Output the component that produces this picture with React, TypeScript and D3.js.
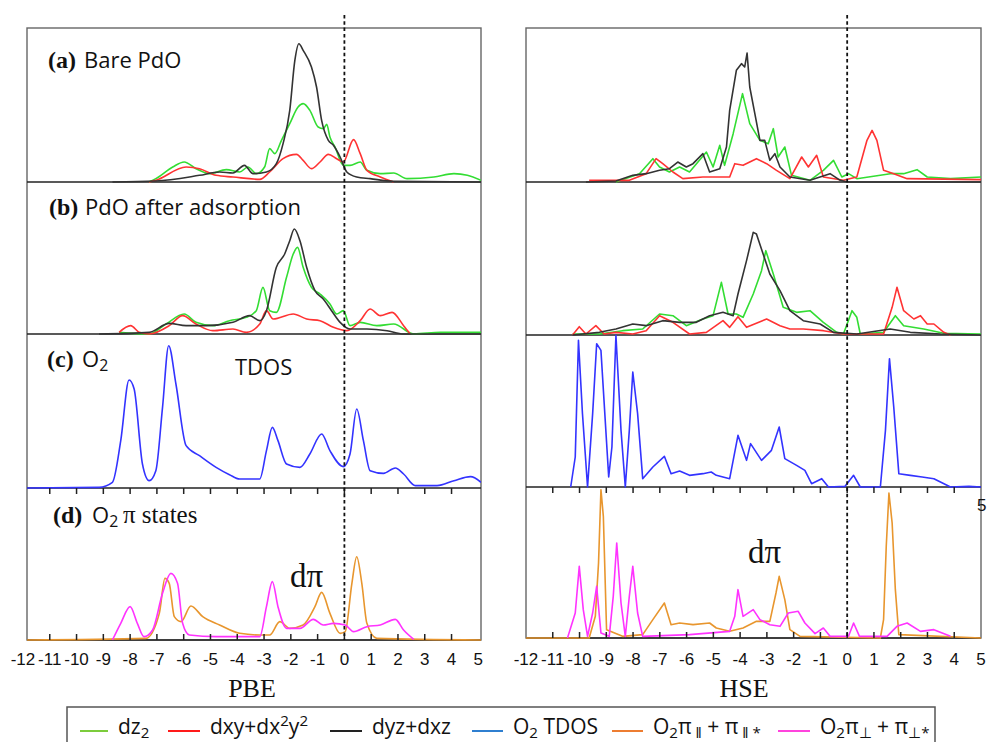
import React, { useEffect, useRef } from 'react';
import * as d3 from 'd3';

type Pt = [number, number];

// Energy axis (eV), both columns
const tickLabels = [-12, -11, -10, -9, -8, -7, -6, -5, -4, -3, -2, -1, 0, 1, 2, 3, 4, 5];
const tickMarks = [-11, -10, -9, -8, -7, -6, -5, -4, -3, -2, -1, 0, 1, 2, 3, 4];
const columnTitles = ['PBE', 'HSE'];

// ---- PBE (left column) ----
// (a) bare PdO
const pbeA_dz2: Pt[] = [[-7.3, 0], [-7.04, 1], [-6.41, 4.5], [-5.98, 6], [-5.54, 4], [-5.04, 2.5], [-4.41, 3.7], [-3.91, 3], [-3.6, 4.5], [-3.29, 2.5], [-2.98, 4.5], [-2.79, 10], [-2.6, 8.5], [-2.35, 12.5], [-2.04, 17.5], [-1.73, 22.5], [-1.54, 23.5], [-1.29, 21.5], [-0.98, 16.5], [-0.79, 16], [-0.66, 17.3], [-0.54, 13.5], [-0.35, 10.5], [-0.04, 5], [0.21, 5], [0.59, 6], [0.84, 3.5], [1.34, 2.5], [1.84, 2.7], [2.34, 1], [3.34, 1.5], [4.09, 2.5], [4.59, 2], [5.1, 0.5]];
const pbeA_dxy: Pt[] = [[-7.3, 0], [-7.04, 0.5], [-5.91, 4.5], [-5.41, 4], [-4.79, 2], [-4.16, 1.5], [-3.16, 0.8], [-2.79, 3], [-2.29, 7], [-1.79, 8.3], [-1.54, 6.5], [-1.23, 4], [-0.91, 6], [-0.6, 8.3], [-0.29, 7], [-0.04, 6], [0.34, 12.7], [0.59, 8.5], [0.84, 3.5], [1.34, 1.5], [1.84, 0]];
const pbeA_dyz: Pt[] = [[-8.66, 0], [-7.04, 0.3], [-5.41, 2], [-4.66, 3], [-4.16, 2.7], [-3.73, 5], [-3.41, 2.5], [-2.91, 3], [-2.54, 5.5], [-2.29, 11.5], [-2.04, 21.5], [-1.85, 36.5], [-1.7, 41.5], [-1.54, 39.5], [-1.23, 34.5], [-1.04, 28.5], [-0.85, 18.5], [-0.6, 12.5], [-0.41, 11], [-0.16, 7.5], [0.09, 3], [0.46, 1.5], [0.96, 1], [1.84, 0.2], [5.1, 0]];
// (b) PdO after adsorption
const pbeB_dz2: Pt[] = [[-8.41, 0.5], [-7.29, 0], [-6.66, 3], [-5.98, 6], [-5.54, 3.5], [-4.91, 2.5], [-4.29, 4], [-3.66, 5], [-3.29, 7], [-3.04, 14], [-2.79, 7], [-2.54, 6.5], [-2.16, 17], [-1.91, 24], [-1.75, 26], [-1.54, 20], [-1.23, 14], [-0.91, 12], [-0.54, 9], [-0.29, 6], [-0.04, 7], [0.21, 2.5], [0.59, 3.5], [1.21, 2.5], [1.84, 3], [2.59, 0], [3.59, 0.5], [5.1, 0.5]];
const pbeB_dxy: Pt[] = [[-8.41, 0.5], [-7.98, 2.5], [-7.66, 0.5], [-7.29, 0], [-6.54, 2.5], [-6.04, 5.5], [-5.54, 3], [-4.91, 1], [-4.16, 1.5], [-3.66, 0.5], [-3.16, 3], [-2.91, 7], [-2.66, 4.5], [-1.91, 6], [-1.41, 4.5], [-0.91, 4], [-0.41, 2], [0.09, 1], [0.59, 4], [0.96, 7.5], [1.34, 5.5], [1.78, 6.5], [2.21, 2.5], [2.46, 0]];
const pbeB_dyz: Pt[] = [[-9.16, 0], [-7.29, 0.5], [-6.54, 3.2], [-5.91, 2.5], [-5.16, 2.5], [-4.16, 3.5], [-3.54, 5.5], [-3.16, 4], [-2.91, 7], [-2.54, 20], [-2.23, 24], [-2.04, 28], [-1.87, 31.5], [-1.66, 28], [-1.41, 20], [-1.1, 13], [-0.79, 10.5], [-0.48, 7], [-0.16, 3.5], [0.21, 1.5], [0.84, 1.5], [1.59, 1], [2.21, 0], [5.1, 0]];
// (c) O2 TDOS
const pbeC_tdos: Pt[] = [[-11.85, 0], [-9.16, 0.2], [-8.66, 1.7], [-8.35, 14.2], [-8.04, 32.4], [-7.85, 29.7], [-7.54, 7.2], [-7.29, 2.2], [-7.04, 5.2], [-6.79, 24.2], [-6.56, 42.7], [-6.29, 31.2], [-5.91, 12.7], [-5.41, 9.7], [-4.79, 6.2], [-4.29, 4], [-3.91, 2.7], [-3.16, 2.7], [-2.91, 11.2], [-2.69, 18.2], [-2.48, 14.2], [-2.16, 7.2], [-1.66, 6.2], [-1.29, 10.2], [-0.85, 16.2], [-0.54, 11.2], [-0.04, 6.4], [0.21, 10.2], [0.46, 23.7], [0.71, 14.2], [0.96, 5.2], [1.46, 4.4], [1.9, 6], [2.21, 4.2], [2.65, 0.7], [3.46, 0.7], [4.09, 2.2], [4.71, 3.4], [5.1, 1.7]];
// (d) O2 pi states
const pbeD_par: Pt[] = [[-11.85, 0], [-7.41, 0.5], [-6.91, 8], [-6.7, 18.5], [-6.54, 17], [-6.35, 7], [-6.1, 5.5], [-5.73, 10.2], [-5.29, 7], [-4.66, 4.5], [-3.91, 2], [-3.16, 1.5], [-2.79, 1.5], [-2.41, 5.5], [-2.04, 3.5], [-1.54, 4.5], [-1.1, 10], [-0.85, 14.3], [-0.54, 8], [-0.16, 2], [0.03, 2.5], [0.28, 17], [0.46, 25], [0.65, 17], [0.84, 5], [1.21, 0.5], [5.1, 0]];
const pbeD_perp: Pt[] = [[-8.66, 0], [-8.35, 5], [-8.0, 10], [-7.73, 5], [-7.48, 1], [-7.16, 3], [-6.79, 14], [-6.48, 20], [-6.23, 17], [-6.04, 5], [-5.79, 1.5], [-4.79, 1], [-3.16, 1], [-2.91, 10], [-2.69, 17.5], [-2.48, 10], [-2.16, 3.5], [-1.66, 3.5], [-1.16, 6.2], [-0.79, 4.5], [-0.41, 5], [0.03, 4.5], [0.34, 2.5], [0.84, 4], [1.34, 4.5], [1.9, 6.2], [2.21, 3], [2.59, 0.2]];

// ---- HSE (right column) ----
const hseA_dz2: Pt[] = [[-8.64, 0], [-7.76, 2.5], [-7.26, 7], [-7.01, 4.5], [-6.64, 3], [-6.26, 4.5], [-5.89, 3], [-5.26, 9], [-5.01, 4.5], [-4.76, 11], [-4.58, 5], [-4.26, 14.5], [-3.91, 26.5], [-3.64, 17.5], [-3.26, 12.5], [-2.95, 11.5], [-2.76, 16], [-2.58, 7.5], [-2.33, 10.5], [-2.08, 2], [-1.39, 0.5], [-0.89, 3.5], [-0.51, 6.5], [-0.2, 1.5], [0.05, 2.5], [0.36, 1], [1.61, 2.5], [2.11, 2.5], [2.61, 3.7], [2.99, 1.5], [3.86, 1], [5, 1.5]];
const hseA_dxy: Pt[] = [[-9.64, 0.5], [-8.14, 0.5], [-7.51, 2.5], [-7.14, 7], [-6.89, 5.5], [-6.51, 3], [-6.14, 1], [-5.39, 1.5], [-4.39, 1.5], [-4.2, 5.5], [-3.89, 5], [-3.39, 7], [-3.01, 5.5], [-2.64, 3.5], [-2.14, 1], [-1.7, 7.5], [-1.45, 4.5], [-1.14, 8], [-0.89, 1.5], [-0.14, 0.5], [0.36, 1.5], [0.74, 12.5], [0.93, 15.5], [1.11, 12.5], [1.36, 3.5], [1.74, 2.5], [2.24, 1], [5, 0.7]];
const hseA_dyz: Pt[] = [[-9.76, 0], [-8.64, 0.3], [-8.01, 2], [-7.51, 2.5], [-7.01, 3.5], [-6.64, 4], [-6.33, 6], [-6.01, 4.5], [-5.76, 5.5], [-5.39, 8.5], [-5.14, 3], [-4.76, 4], [-4.51, 10.5], [-4.39, 21.5], [-4.14, 33.5], [-3.95, 35.5], [-3.83, 34.5], [-3.74, 38.7], [-3.64, 28.5], [-3.45, 20.5], [-3.26, 12.5], [-3.08, 12.5], [-2.89, 6.5], [-2.7, 8.5], [-2.51, 4.5], [-2.14, 1.5], [-1.39, 0.5], [-0.64, 2.5], [-0.26, 0.5], [0, 0], [5, 0]];
const hseB_dz2: Pt[] = [[-10.26, 0.3], [-9.26, 0.3], [-8.39, 1.3], [-7.64, 1.8], [-7.01, 6.3], [-6.51, 5.8], [-6.01, 2.8], [-5.39, 4.8], [-5.01, 5.8], [-4.7, 15.8], [-4.45, 6.3], [-4.14, 6.3], [-3.89, 5.3], [-3.51, 12.3], [-3.2, 19.3], [-3.04, 25.3], [-2.76, 18.3], [-2.39, 8.3], [-1.89, 6.8], [-1.39, 7.3], [-0.89, 3.8], [-0.39, 0.8], [-0.14, 0.3], [0.18, 7.3], [0.36, 5.3], [0.49, 0.3], [1.36, 0.8], [1.8, 5.8], [2.11, 2.8], [2.86, 1.8], [3.61, 0.5], [5, 0.3]];
const hseB_dxy: Pt[] = [[-10.26, 0], [-10.01, 2.5], [-9.76, 0.3], [-9.39, 2.8], [-9.08, 0.3], [-8.64, 0.8], [-8.01, 0.3], [-7.51, 1.3], [-7.01, 5.8], [-6.51, 3.8], [-5.89, 0.3], [-5.26, 0.8], [-4.64, 4.3], [-4.39, 2.3], [-4.08, 5.5], [-3.76, 2.3], [-3.01, 4.8], [-2.51, 2.8], [-2.14, 1.8], [-1.64, 1.8], [-0.89, 1.3], [-0.14, 0.3], [1.36, 0.3], [1.68, 8.3], [1.86, 14.3], [2.11, 7.3], [2.49, 4.8], [2.74, 5.8], [2.99, 3.3], [3.24, 3.3], [3.61, 0.8], [3.86, 0]];
const hseB_dyz: Pt[] = [[-10.26, 0], [-9.26, 0.8], [-8.64, 1.8], [-8.01, 3.3], [-7.51, 2.8], [-6.89, 4.3], [-6.26, 3.8], [-5.64, 3.8], [-5.14, 5.8], [-4.64, 6.8], [-4.26, 5.8], [-4.08, 12.3], [-3.76, 22.3], [-3.51, 30.8], [-3.39, 30.3], [-3.14, 24.3], [-2.89, 18.3], [-2.51, 13.3], [-2.14, 7.3], [-1.64, 4.3], [-1.01, 3.3], [-0.51, 0.8], [0.36, 0.3], [1.61, 1.8], [2.36, 0.8], [3.49, 0.3], [5, 0]];
const hseC_tdos: Pt[] = [[-10.33, 0], [-10.16, 9], [-10.04, 44], [-9.89, 22], [-9.7, 0], [-9.51, 22], [-9.36, 43], [-9.2, 41], [-8.91, 3], [-8.79, 12], [-8.64, 45.5], [-8.45, 17], [-8.29, 0], [-8.14, 17], [-8.01, 34.5], [-7.83, 22], [-7.64, 2.5], [-7.26, 6], [-6.83, 9.2], [-6.58, 4], [-6.26, 4.8], [-5.89, 3.5], [-5.39, 4], [-5.08, 4.5], [-4.89, 3.5], [-4.39, 2.5], [-4.08, 15.5], [-3.76, 8], [-3.61, 13], [-3.2, 8], [-2.83, 11], [-2.54, 18], [-2.33, 8.5], [-1.89, 6.5], [-1.58, 5], [-1.33, 1], [-0.95, 2.5], [-0.7, 0], [-0.08, 0.2], [0.24, 3.5], [0.49, 0], [1.24, 0], [1.43, 17], [1.58, 38.5], [1.74, 24], [1.93, 4], [2.36, 3.5], [2.8, 3], [3.24, 2.5], [3.86, 0], [4.55, 0.2], [5, 0]];
const hseD_par: Pt[] = [[-12, 0], [-9.64, 0], [-9.41, 6.5], [-9.29, 22.5], [-9.2, 44.5], [-9.11, 36.5], [-8.99, 2.5], [-8.39, 0.5], [-7.64, 1], [-7.26, 5.5], [-6.83, 10.5], [-6.58, 4], [-6.26, 4.5], [-5.76, 4], [-5.14, 4.5], [-4.89, 3], [-4.39, 2], [-3.89, 3], [-3.39, 5], [-2.89, 5], [-2.66, 13.5], [-2.54, 18.5], [-2.33, 11.5], [-2.14, 2.5], [-1.76, 0.5], [1.24, 0], [1.36, 5.5], [1.46, 27.5], [1.56, 43.5], [1.68, 34.5], [1.8, 14.5], [1.93, 1], [5, 0]];
const hseD_perp: Pt[] = [[-10.45, 0], [-10.16, 7.5], [-10.01, 21.5], [-9.86, 8.5], [-9.7, 0.5], [-9.51, 7.5], [-9.36, 15.5], [-9.2, 1.5], [-8.89, 0.5], [-8.74, 12.5], [-8.61, 28.5], [-8.45, 10.5], [-8.29, 0.5], [-8.14, 12.5], [-8.01, 21.5], [-7.83, 7.5], [-7.64, 0.5], [-5.89, 1], [-4.39, 2], [-4.2, 6.5], [-4.08, 14.5], [-3.89, 6.5], [-3.51, 8.5], [-3.26, 5.5], [-2.89, 4], [-2.51, 3.5], [-2.2, 7.5], [-1.83, 8], [-1.58, 4.5], [-1.2, 1.3], [-0.89, 3], [-0.64, 0.5], [0.05, 0.5], [0.24, 4.5], [0.46, 0.5], [1.49, 0.5], [1.86, 3.5], [2.24, 4.5], [2.74, 2], [3.24, 2.5], [3.86, 0.5]];

const C = { dz2: '#33dd33', dxy: '#ff3333', dyz: '#333333', tdos: '#3333ff', par: '#e8962e', perp: '#ff33ff' };
const SANS = 'Open Sans, sans-serif';
const SERIF = 'Liberation Serif, Times New Roman, serif';
const ARIAL = 'Liberation Sans, Arial, sans-serif';

type Part = [string, string?];

function rich(g: any, x: number, y: number, parts: Part[], size: number, family: string) {
  const t = g.append('text').attr('x', x).attr('y', y)
    .attr('font-family', family).attr('font-size', size).attr('fill', '#111');
  parts.forEach(([s, mode]) => {
    const sp = t.append('tspan').text(s);
    if (mode === 'sub') sp.attr('font-size', size * 0.72).attr('baseline-shift', -size * 0.18);
    if (mode === 'sup') sp.attr('font-size', size * 0.72).attr('baseline-shift', size * 0.36);
  });
  return t;
}

const App = () => {
  const svgRef = useRef<SVGSVGElement>(null);

  useEffect(() => {
    const svg = d3.select(svgRef.current);
    svg.selectAll('*').remove();

    const cols = [
      {
        x: d3.scaleLinear().domain([-11.85, 5.1]).range([27, 481]),
        bounds: [28, 182, 334, 488, 640],
        curve: d3.curveMonotoneX,
        titleX: 252,
        panels: [
          [[pbeA_dz2, C.dz2], [pbeA_dxy, C.dxy], [pbeA_dyz, C.dyz]],
          [[pbeB_dz2, C.dz2], [pbeB_dxy, C.dxy], [pbeB_dyz, C.dyz]],
          [[pbeC_tdos, C.tdos]],
          [[pbeD_par, C.par], [pbeD_perp, C.perp]],
        ],
      },
      {
        x: d3.scaleLinear().domain([-12, 5]).range([526, 981]),
        bounds: [28, 182, 335, 487, 638],
        curve: d3.curveLinear,
        titleX: 744,
        panels: [
          [[hseA_dz2, C.dz2], [hseA_dxy, C.dxy], [hseA_dyz, C.dyz]],
          [[hseB_dz2, C.dz2], [hseB_dxy, C.dxy], [hseB_dyz, C.dyz]],
          [[hseC_tdos, C.tdos]],
          [[hseD_par, C.par], [hseD_perp, C.perp]],
        ],
      },
    ];

    cols.forEach((col, ci) => {
      const [x0, x1] = col.x.range();
      const b = col.bounds;
      const g = svg.append('g');

      g.append('rect').attr('x', x0).attr('y', b[0]).attr('width', x1 - x0).attr('height', b[4] - b[0])
        .attr('fill', '#fff').attr('stroke', '#666').attr('stroke-width', 1.4);

      const clipId = `clip${ci}`;
      svg.append('clipPath').attr('id', clipId).append('rect')
        .attr('x', x0).attr('y', b[0] - 2).attr('width', x1 - x0).attr('height', b[4] - b[0] + 3);

      col.panels.forEach((series, pi) => {
        const top = b[pi], bottom = b[pi + 1];
        const y = d3.scaleLinear().domain([0, (bottom - top) / 3.333]).range([bottom, top]);
        g.append('line').attr('x1', x0).attr('x2', x1).attr('y1', bottom).attr('y2', bottom)
          .attr('stroke', '#222').attr('stroke-width', 1.6);
        const line = d3.line<Pt>().x(d => col.x(d[0])).y(d => y(d[1])).curve(col.curve);
        series.forEach(([data, color]) => {
          g.append('path').datum(data as Pt[]).attr('clip-path', `url(#${clipId})`)
            .attr('fill', 'none').attr('stroke', color as string).attr('stroke-width', 1.6)
            .attr('stroke-linejoin', 'round').attr('d', line);
        });
      });

      // tick marks below panel (c) and on the bottom axis
      tickMarks.forEach(t => {
        const tx = col.x(t);
        g.append('line').attr('x1', tx).attr('x2', tx).attr('y1', b[3]).attr('y2', b[3] + 6)
          .attr('stroke', '#222').attr('stroke-width', 1.5);
        g.append('line').attr('x1', tx).attr('x2', tx).attr('y1', b[4]).attr('y2', b[4] - 6)
          .attr('stroke', '#222').attr('stroke-width', 1.5);
      });

      // Fermi level
      g.append('line').attr('x1', col.x(0)).attr('x2', col.x(0)).attr('y1', 15).attr('y2', b[4])
        .attr('stroke', '#111').attr('stroke-width', 1.8).attr('stroke-dasharray', '3.5,2.8');

      tickLabels.forEach(t => {
        g.append('text').attr('x', col.x(t)).attr('y', 665).attr('text-anchor', 'middle')
          .attr('font-family', ARIAL).attr('font-size', 17)
          .attr('fill', '#111').text(String(t));
      });

      g.append('text').attr('x', col.titleX).attr('y', 697).attr('text-anchor', 'middle')
        .attr('font-family', SERIF).attr('font-size', 26).attr('fill', '#111')
        .text(columnTitles[ci]);
    });

    // panel labels
    const lab = svg.append('g');
    const bold = (x: number, y: number, s: string) =>
      lab.append('text').attr('x', x).attr('y', y).attr('font-family', SERIF).attr('font-weight', 'bold')
        .attr('font-size', 24).attr('fill', '#111').text(s);
    bold(48, 68, '(a)');
    rich(lab, 84, 68, [['Bare PdO']], 22, SANS);
    bold(49, 215, '(b)');
    rich(lab, 85, 215, [['PdO after adsorption']], 22, SANS);
    bold(47, 367, '(c)');
    rich(lab, 82, 367, [['O'], ['2', 'sub']], 22, SANS);
    rich(lab, 235, 375, [['TDOS']], 22, SANS);
    bold(53, 523, '(d)');
    rich(lab, 92, 523, [['O'], ['2', 'sub']], 22, SANS);
    rich(lab, 123, 523, [['π states']], 25, SERIF);
    rich(lab, 290, 587, [['dπ']], 33, SERIF);
    rich(lab, 748, 563, [['dπ']], 33, SERIF);
    // stray tick label at the right edge
    lab.append('text').attr('x', 977).attr('y', 511).attr('font-family', ARIAL)
      .attr('font-size', 17).attr('fill', '#111').text('5');

    // legend
    const leg = svg.append('g');
    leg.append('rect').attr('x', 67).attr('y', 707).attr('width', 868).attr('height', 60)
      .attr('fill', 'none').attr('stroke', '#555').attr('stroke-width', 1.5);
    const items: [number, number, string, Part[]][] = [
      [80, 108, '#7ccc3c', [['dz'], ['2', 'sub']]],
      [168, 200, '#ff1a1a', [['dxy+dx'], ['2', 'sup'], ['y'], ['2', 'sup']]],
      [330, 362, '#222222', [['dyz+dxz']]],
      [472, 503, '#2f7fd0', [['O'], ['2', 'sub'], [' TDOS']]],
      [612, 643, '#ed7d31', [['O'], ['2', 'sub'], ['π'], [' ‖', 'sub'], [' + π'], [' ‖ *', 'sub']]],
      [778, 810, '#ff44dd', [['O'], ['2', 'sub'], ['π'], ['⊥', 'sub'], [' + π'], ['⊥*', 'sub']]],
    ];
    items.forEach(([a, bx, color, parts]) => {
      leg.append('line').attr('x1', a).attr('x2', bx).attr('y1', 731).attr('y2', 731)
        .attr('stroke', color).attr('stroke-width', 2);
      rich(leg, bx + 10, 734, parts, 21, SANS);
    });
  }, []);

  return (
    <svg ref={svgRef} width={987} height={742}
      style={{ position: 'absolute', left: 0, top: 0, background: '#fff' }} />
  );
};

export default App;
